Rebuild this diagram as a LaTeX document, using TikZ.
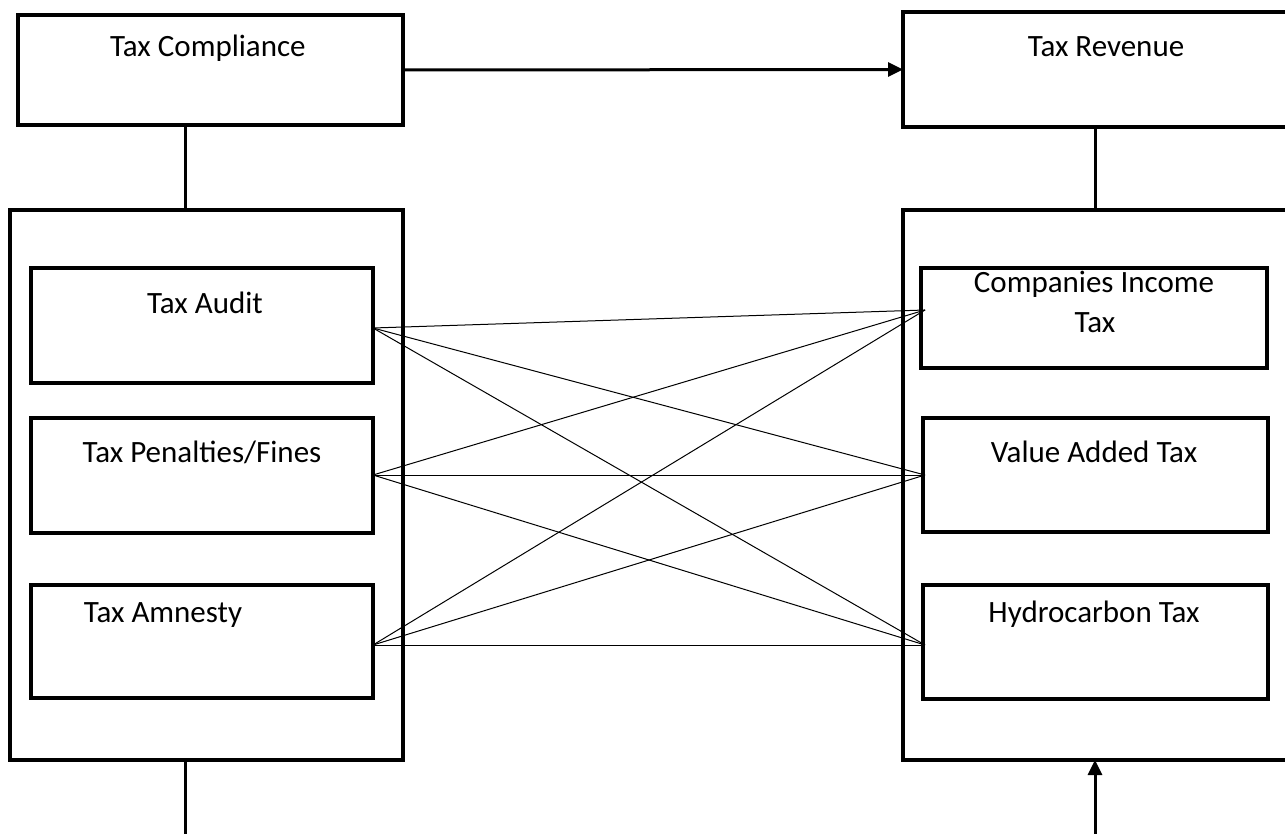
\documentclass[tikz,border=0pt]{standalone}
\usepackage{fontspec}
\setmainfont{Carlito}
\usetikzlibrary{arrows.meta}
\begin{document}
\begin{tikzpicture}[x=1pt,y=-1pt,
  box/.style={draw, line width=3.5pt, inner sep=0pt, outer sep=0pt, anchor=north west},
  lbl/.style={font=\fontsize{31}{39}\selectfont, anchor=base, inner sep=0pt},
  cross/.style={line width=1pt},
  conn/.style={line width=3pt},
  arr/.style={line width=3pt, -{Triangle[length=15pt,width=14pt]}}]
\useasboundingbox (0,0) rectangle (1285,834);
\clip (0,0) rectangle (1285,834);
% outer boxes
\node[box, minimum width=385pt, minimum height=110pt] (compliance) at (18,15) {};
\node[box, minimum width=420pt, minimum height=115pt] (revenue) at (903,12) {};
\node[box, minimum width=393pt, minimum height=550pt] (lbig) at (10,210) {};
\node[box, minimum width=420pt, minimum height=550pt] (rbig) at (903,210) {};
% inner boxes
\node[box, minimum width=342pt, minimum height=115pt] (audit) at (31,268) {};
\node[box, minimum width=342pt, minimum height=115pt] (penal) at (31,418) {};
\node[box, minimum width=342pt, minimum height=113pt] (amnesty) at (31,585) {};
\node[box, minimum width=346pt, minimum height=100pt] (cit) at (921,268) {};
\node[box, minimum width=345pt, minimum height=114pt] (vat) at (923,418) {};
\node[box, minimum width=345pt, minimum height=114pt] (hydro) at (923,585) {};
% labels
\node[lbl] (tcomp) at (208,57) {Tax Compliance};
\node[lbl] (trev) at (1106,57) {Tax Revenue};
\node[lbl] (taud) at (205,313) {Tax Audit};
\node[lbl] (tpen) at (202,462) {Tax Penalties/Fines};
\node[lbl] (tamn) at (163,622) {Tax Amnesty};
\node[lbl] (tcit1) at (1094,293) {Companies Income};
\node[lbl] (tcit2) at (1095,332) {Tax};
\node[lbl] (tvat) at (1094,462) {Value Added Tax};
\node[lbl] (thyd) at (1094,622) {Hydrocarbon Tax};
% connector end points
\coordinate (a1) at (373,328);
\coordinate (a2) at (373,475);
\coordinate (a3) at (373,645);
\coordinate (b1) at (925,310);
\coordinate (b2) at (925,475);
\coordinate (b3) at (925,645);
\coordinate (lbot) at (185,840);
\coordinate (rbot) at (1095,840);
% cross lines
\foreach \a in {a1,a2,a3}{
  \foreach \b in {b1,b2,b3}{
    \draw[cross] (\a) -- (\b);
  }
}
% main connectors
\draw[arr] (compliance.east) -- (revenue.west);
\draw[conn] (compliance.south -| lbot) -- (lbig.north -| lbot);
\draw[conn] (revenue.south -| rbot) -- (rbig.north -| rbot);
\draw[conn] (lbig.south -| lbot) -- (lbot);
\draw[arr] (rbot) -- (rbig.south -| rbot);
\end{tikzpicture}
\end{document}
